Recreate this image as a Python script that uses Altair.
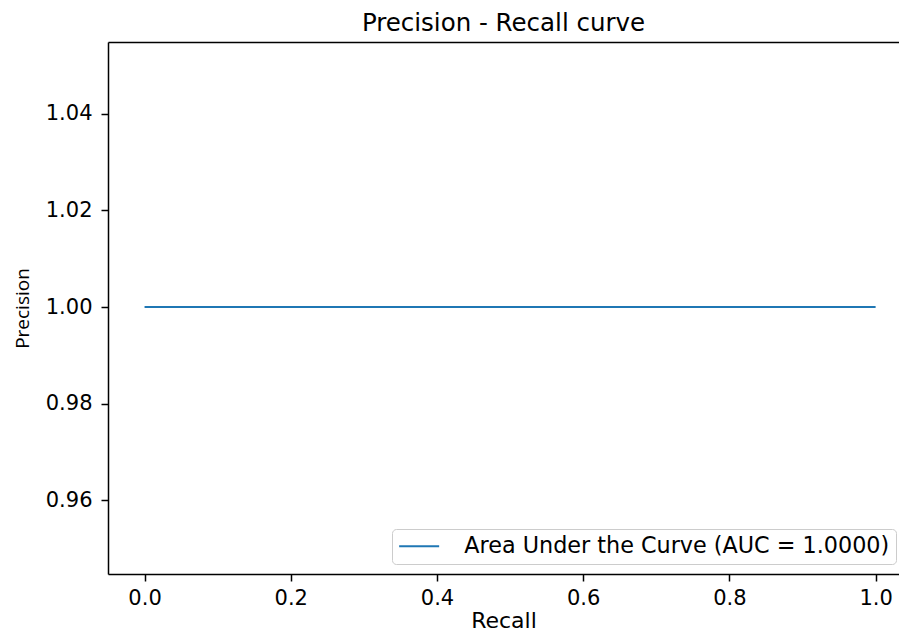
import altair as alt
import pandas as pd

recall = [0.0, 1.0]
precision = [1.0, 1.0]
series = ["Area Under the Curve (AUC = 1.0000)"] * 2
x_ticks = [0.0, 0.2, 0.4, 0.6, 0.8, 1.0]
y_ticks = [0.96, 0.98, 1.00, 1.02, 1.04]

df = pd.DataFrame({"Recall": recall, "Precision": precision, "series": series})

FONT = "DejaVu Sans"
x_scale = alt.Scale(domain=[-0.05, 1.032], nice=False, zero=False)
y_scale = alt.Scale(domain=[0.9447, 1.0549], nice=False, zero=False)

base = alt.Chart(df)

line = base.mark_line(strokeWidth=2, clip=True).encode(
    x=alt.X("Recall:Q", scale=x_scale,
            axis=alt.Axis(values=x_ticks, format=".1f", title="Recall", grid=False,
                          labelFontSize=21, titleFontSize=22, labelPadding=6,
                          titlePadding=2, tickSize=7)),
    y=alt.Y("Precision:Q", scale=y_scale,
            axis=alt.Axis(values=y_ticks, format=".2f", title="Precision", grid=False,
                          labelFontSize=21, titleFontSize=19, labelPadding=9,
                          titlePadding=13, tickSize=7, titleFont="Open Sans")),
    color=alt.Color("series:N",
                    scale=alt.Scale(range=["#1f77b4"]),
                    legend=alt.Legend(title=None, orient="none", legendX=284, legendY=487,
                                      symbolType="M-1,0H3", symbolSize=400,
                                      symbolStrokeWidth=2, labelFontSize=22.3,
                                      labelOffset=44, padding=6, labelLimit=800,
                                      strokeColor="#cccccc", fillColor="white",
                                      cornerRadius=4, labelColor="#000000")),
)

top = base.mark_line(opacity=0).encode(
    x=alt.X("Recall:Q", scale=x_scale,
            axis=alt.Axis(orient="top", labels=False, ticks=False, title=None,
                          grid=False, domain=True)),
    y=alt.Y("Precision:Q", scale=y_scale),
)

chart = alt.layer(line, top).resolve_axis(x="independent").properties(
    width=791,
    height=532,
    title=alt.TitleParams("Precision - Recall curve", fontSize=24.5, fontWeight="normal",
                          font=FONT, offset=6, color="#000000"),
    padding={"left": 100, "top": 34, "right": 0, "bottom": 59},
    autosize=alt.AutoSizeParams(type="none"),
).configure_axis(
    labelFont=FONT, titleFont=FONT, labelColor="#000000", titleColor="#000000",
    domainColor="#000000", tickColor="#000000", domainWidth=1.5, tickWidth=1.5,
    titleFontWeight="normal",
).configure_legend(
    labelFont=FONT,
).configure_view(
    stroke=None,
)

chart.save("out.html", embed_options={"renderer": "svg", "actions": False})
